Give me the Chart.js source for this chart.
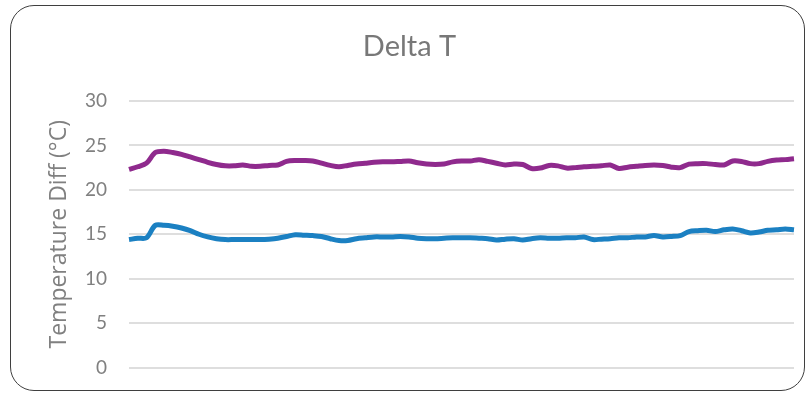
<!DOCTYPE html>
<html>
<head>
<meta charset="utf-8">
<style>
* {
  margin: 0;
  padding: 0;
}
body {
  width: 809px;
  height: 394px;
  background: #ffffff;
  overflow: hidden;
  position: relative;
}
.frame {
  position: absolute;
  left: 10px;
  top: 5px;
  width: 795px;
  height: 386px;
  border: 1.5px solid #3f3f3f;
  border-radius: 24px;
  box-sizing: border-box;
}
#chartBox {
  position: absolute;
  left: 0;
  top: 0;
  width: 809px;
  height: 394px;
}
</style>
</head>
<body>
<div class="frame"></div>
<div id="chartBox">
  <canvas id="myChart" width="809" height="394"></canvas>
</div>
<script src="https://cdn.jsdelivr.net/npm/chart.js"></script>
<script>
// readings, one per sample
const samples = Array.from({ length: 77 }, (_, i) => String(i + 1));

const upperDelta = [
  22.3, 22.6, 23.0, 24.2, 24.35, 24.2, 24.0, 23.7, 23.4, 23.1,
  22.85, 22.7, 22.7, 22.8, 22.65, 22.65, 22.75, 22.8, 23.2, 23.3,
  23.3, 23.25, 23.0, 22.75, 22.6, 22.75, 22.9, 23.0, 23.1, 23.15,
  23.15, 23.2, 23.25, 23.05, 22.9, 22.85, 22.9, 23.15, 23.25, 23.25,
  23.4, 23.2, 23.0, 22.8, 22.9, 22.85, 22.4, 22.45, 22.75, 22.7,
  22.45, 22.5, 22.6, 22.65, 22.7, 22.8, 22.4, 22.55, 22.65, 22.75,
  22.8, 22.75, 22.55, 22.5, 22.9, 22.95, 22.95, 22.85, 22.8, 23.25,
  23.2, 22.95, 22.95, 23.2, 23.35, 23.4, 23.5
];

const lowerDelta = [
  14.4, 14.55, 14.6, 16.0, 16.0, 15.9, 15.7, 15.4, 15.0, 14.7,
  14.5, 14.4, 14.4, 14.4, 14.4, 14.4, 14.45, 14.55, 14.75, 14.95,
  14.9, 14.85, 14.75, 14.5, 14.3, 14.3, 14.5, 14.6, 14.7, 14.7,
  14.7, 14.75, 14.7, 14.55, 14.5, 14.5, 14.55, 14.6, 14.6, 14.6,
  14.55, 14.5, 14.35, 14.45, 14.5, 14.35, 14.5, 14.6, 14.55, 14.55,
  14.6, 14.6, 14.7, 14.4, 14.45, 14.5, 14.6, 14.6, 14.7, 14.7,
  14.85, 14.7, 14.75, 14.85, 15.3, 15.4, 15.45, 15.3, 15.5, 15.6,
  15.4, 15.15, 15.25, 15.45, 15.5, 15.6, 15.5
];

const yTicks = [0, 5, 10, 15, 20, 25, 30];

const labelFont = "Lato, 'Open Sans', sans-serif";

const data = {
  labels: samples,
  datasets: [{
    label: 'Upper',
    data: upperDelta,
    borderColor: '#8f2a8d',
    backgroundColor: '#8f2a8d',
    borderWidth: 5,
    pointRadius: 0,
    tension: 0.3
  }, {
    label: 'Lower',
    data: lowerDelta,
    borderColor: '#1b80c2',
    backgroundColor: '#1b80c2',
    borderWidth: 5,
    pointRadius: 0,
    tension: 0.3
  }]
};

const config = {
  type: 'line',
  data,
  options: {
    responsive: false,
    animation: false,
    layout: {
      padding: { left: 10, right: 0, top: 0, bottom: 26.5 }
    },
    plugins: {
      legend: { display: false },
      tooltip: { enabled: false },
      title: {
        display: true,
        text: 'Delta T',
        color: '#787878',
        font: { family: labelFont, size: 29, weight: 'normal' },
        padding: { top: 29, bottom: 37.2 }
      }
    },
    scales: {
      x: {
        display: false
      },
      y: {
        min: 0,
        max: 30,
        afterBuildTicks: (scale) => {
          scale.ticks = yTicks.map(v => ({ value: v }));
        },
        afterFit: (scale) => {
          scale.width = 119;
        },
        border: { display: false },
        grid: {
          color: '#dedede',
          lineWidth: 2,
          drawTicks: true,
          tickLength: 19,
          tickColor: 'rgba(0,0,0,0)'
        },
        ticks: {
          color: '#808080',
          padding: 3,
          font: { family: labelFont, size: 19 }
        },
        title: {
          display: true,
          text: 'Temperature Diff (°C)',
          color: '#808080',
          font: { family: "'Open Sans', sans-serif", size: 23 },
          padding: { top: 36, bottom: 0 }
        }
      },
      // empty strip on the right edge of the plot
      yRight: {
        position: 'right',
        display: true,
        min: 0,
        max: 30,
        border: { display: false },
        grid: { display: false },
        ticks: { display: false },
        afterFit: (scale) => {
          scale.width = 15;
        }
      }
    }
  }
};

const myChart = new Chart(document.getElementById('myChart'), config);
</script>
</body>
</html>
